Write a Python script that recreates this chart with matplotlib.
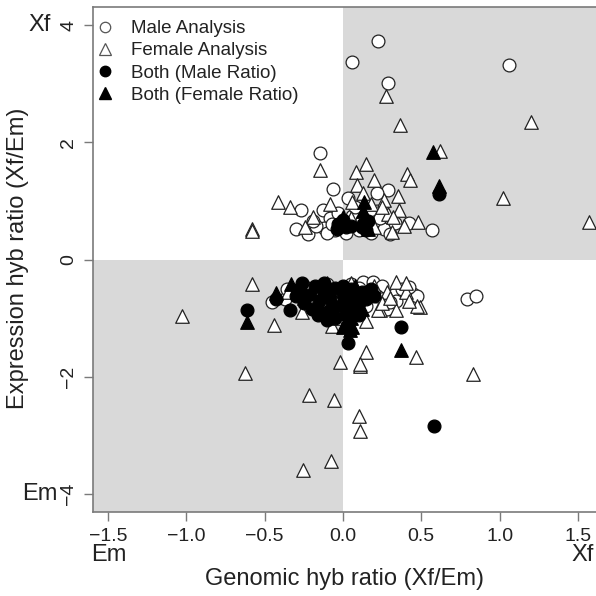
import matplotlib
matplotlib.use('Agg')
import matplotlib.pyplot as plt
from matplotlib.patches import Rectangle
from matplotlib.lines import Line2D

plt.rcParams['font.family'] = ['Liberation Sans', 'DejaVu Sans']

# open circles: male analysis
male_x = [0.225, 0.055, 1.06, 0.29, -0.145, -0.066, 0.034, 0.29, 0.22,
          -0.27, -0.126, -0.083, 0.215, 0.42, 0.57, -0.30, -0.22, -0.12, -0.05,
          0.215, 0.26, 0.30, 0.236, -0.17, -0.02, 0.06, 0.10, -0.10, 0.17,
          0.08, -0.03, 0.33, 0.12, -0.19, 0.02, 0.18, -0.07,
          -0.455, -0.37, -0.355, 0.13, 0.19, 0.33, 0.45, 0.47, 0.28, 0.34,
          0.79, 0.85, 0.25, 0.38, 0.30, 0.22, 0.05, -0.10, -0.25, 0.10, 0.42,
          -0.20, 0.00, 0.15]
male_y = [3.73, 3.37, 3.32, 3.02, 1.82, 1.21, 1.05, 1.19, 1.14,
          0.84, 0.84, 0.70, 0.82, 0.63, 0.51, 0.52, 0.44, 0.54, 0.50,
          0.67, 0.52, 0.44, 0.71, 0.58, 0.62, 0.75, 0.50, 0.45, 0.85,
          0.90, 0.80, 0.62, 0.68, 0.65, 0.45, 0.45, 0.60,
          -0.73, -0.67, -0.50, -0.39, -0.39, -0.59, -0.59, -0.62, -0.85, -0.70,
          -0.68, -0.63, -0.45, -0.50, -0.72, -0.62, -0.42, -0.42, -0.45, -0.48, -0.47,
          -0.70, -0.85, -0.80]

# open triangles: female analysis
female_x = [0.274, 0.364, 1.20, -0.147, 0.62, 1.02, 1.57, 0.41, 0.43, 0.15,
            0.085, 0.20, 0.09, 0.35, 0.26, 0.36, 0.48, 0.31, 0.29, -0.413,
            -0.34, -0.19, -0.58, -0.58, 0.13, 0.06, 0.18, 0.25, 0.32, 0.05,
            -0.08, 0.39, -0.24, 0.20,
            -1.03, -0.58, -0.44, -0.625, -0.217, -0.06, 0.10, 0.11, -0.253, -0.073,
            0.466, 0.83, 0.15, -0.02, 0.11, 0.11, 0.49, 0.34, 0.34, 0.236, 0.47,
            -0.26, -0.07, 0.225, -0.15, 0.05, 0.20, 0.28, 0.40, 0.42, 0.10, 0.25,
            -0.05, 0.15, 0.30, -0.35, 0.12, 0.40, -0.10]
female_y = [2.79, 2.29, 2.34, 1.52, 1.85, 1.05, 0.64, 1.46, 1.35, 1.63,
            1.50, 1.36, 1.27, 1.08, 1.02, 0.85, 0.64, 0.47, 0.78, 0.98,
            0.90, 0.73, 0.52, 0.48, 1.13, 0.98, 0.95, 0.90, 0.72, 0.70,
            0.95, 0.58, 0.55, 0.55,
            -0.96, -0.42, -1.11, -1.94, -2.31, -2.40, -2.67, -2.92, -3.59, -3.44,
            -1.66, -1.96, -1.58, -1.75, -1.81, -1.78, -0.81, -0.39, -0.87, -0.87, -0.79,
            -0.90, -1.13, -0.87, -0.45, -0.40, -0.45, -0.55, -0.55, -0.70, -0.90, -0.75,
            -1.00, -1.05, -0.65, -0.55, -0.62, -0.40, -0.40]

# filled circles: both, male ratio
both_m_x = [0.61, 0.00, 0.02, -0.03, 0.13, 0.15, 0.12, 0.16, 0.05, -0.04,
            -0.61, -0.43, -0.34, 0.368, 0.578, 0.034, -0.10,
            -0.28, -0.22, -0.18, -0.15, -0.12, -0.08, -0.05, -0.02, 0.00, 0.03,
            0.05, 0.08, 0.10, 0.12, 0.15, 0.18, -0.25, -0.20, -0.10, -0.05,
            0.02, 0.06, -0.30, -0.16, 0.00, -0.07, 0.10, 0.20, -0.26, -0.12]
both_m_y = [1.12, 0.67, 0.55, 0.60, 0.61, 0.50, 0.56, 0.66, 0.58, 0.52,
            -0.87, -0.67, -0.87, -1.16, -2.84, -1.43, -1.04,
            -0.50, -0.60, -0.45, -0.70, -0.55, -0.65, -0.48, -0.80, -0.60, -0.70,
            -0.50, -0.62, -0.75, -0.55, -0.68, -0.50, -0.75, -0.85, -0.90, -1.00,
            -0.95, -0.85, -0.62, -0.95, -0.45, -0.78, -0.95, -0.62, -0.40, -0.40]

# filled triangles: both, female ratio
both_f_x = [0.577, 0.61, 0.134, 0.13, 0.15, 0.00, 0.16,
            -0.61, -0.334, -0.43, 0.368, 0.045, 0.00, -0.20, -0.10, 0.00, 0.05,
            0.08, -0.15, 0.12, -0.05, 0.02, 0.15, -0.25, 0.06]
both_f_y = [1.83, 1.25, 0.98, 0.82, 0.70, 0.72, 0.52,
            -1.07, -0.42, -0.58, -1.54, -1.21, -1.15, -0.55, -0.62, -0.75, -1.00,
            -0.45, -0.80, -0.85, -0.92, -1.08, -0.55, -0.65, -1.15]

legend_labels = ['Male Analysis', 'Female Analysis', 'Both (Male Ratio)', 'Both (Female Ratio)']

W = 596.0
fig = plt.figure(figsize=(5.96, 5.96), dpi=100)
ax = fig.add_axes([93 / W, 84 / W, (W - 93) / W, 505 / W])

xmin, xmax = -1.595, 1.615
ymin, ymax = -4.31, 4.31
shade = '#d9d9d9'
ax.add_patch(Rectangle((0, 0), xmax, ymax, color=shade, lw=0, zorder=0))
ax.add_patch(Rectangle((xmin, ymin), -xmin, -ymin, color=shade, lw=0, zorder=0))

edge = '#222222'
ax.scatter(male_x, male_y, s=85, marker='o', facecolor='white', edgecolor=edge, linewidth=0.9, zorder=2)
ax.scatter(female_x, female_y, s=95, marker='^', facecolor='white', edgecolor=edge, linewidth=0.9, zorder=2)
ax.scatter(both_m_x, both_m_y, s=85, marker='o', facecolor='black', edgecolor='black', linewidth=0.9, zorder=3)
ax.scatter(both_f_x, both_f_y, s=95, marker='^', facecolor='black', edgecolor='black', linewidth=0.9, zorder=3)

ax.set_xlim(xmin, xmax)
ax.set_ylim(ymin, ymax)

axis_col = '#7a7a7a'
for side in ['left', 'bottom', 'top']:
    ax.spines[side].set_color(axis_col)
    ax.spines[side].set_linewidth(1.2)
ax.spines['right'].set_visible(False)

ax.set_xticks([-1.5, -1.0, -0.5, 0.0, 0.5, 1.0, 1.5])
ax.set_xticklabels(['\u22121.5', '\u22121.0', '\u22120.5', '0.0', '0.5', '1.0', '1.5'])
ax.set_yticks([-4, -2, 0, 2, 4])
ax.set_yticklabels(['\u22124', '\u22122', '0', '2', '4'], rotation=90, va='center')
ax.tick_params(direction='out', length=6.5, width=1.0, color=axis_col,
               labelsize=14, labelcolor='#222222')
ax.tick_params(axis='x', pad=5)
ax.tick_params(axis='y', pad=5)

txt = '#222222'
fs = 17
fig.text(344 / W, 1 - 579 / W, 'Genomic hyb ratio (Xf/Em)', ha='center', va='center', fontsize=fs, color=txt)
fig.text(18 / W, 1 - 258 / W, 'Expression hyb ratio (Xf/Em)', ha='center', va='center',
         rotation=90, fontsize=fs, color=txt)
fig.text(40 / W, 1 - 25 / W, 'Xf', ha='center', va='center', fontsize=fs, color=txt)
fig.text(40 / W, 1 - 494 / W, 'Em', ha='center', va='center', fontsize=fs, color=txt)
fig.text(91 / W, 1 - 555 / W, 'Em', ha='left', va='center', fontsize=fs, color=txt)
fig.text(594 / W, 1 - 555 / W, 'Xf', ha='right', va='center', fontsize=fs, color=txt)

handles = [
    Line2D([], [], ls='', marker='o', ms=7.5, mfc='white', mec='#555555', mew=0.9),
    Line2D([], [], ls='', marker='^', ms=8.5, mfc='white', mec='#555555', mew=0.9),
    Line2D([], [], ls='', marker='o', ms=7.5, mfc='black', mec='black'),
    Line2D([], [], ls='', marker='^', ms=8.5, mfc='black', mec='black'),
]
ax.legend(handles, legend_labels, loc='upper left', bbox_to_anchor=(96 / W, 1 - 20 / W),
          bbox_transform=fig.transFigure, frameon=False, fontsize=13.5, borderpad=0,
          borderaxespad=0, handlelength=1.0, handletextpad=0.85, labelspacing=0.27,
          labelcolor=txt)

fig.savefig('out.png', dpi=100)
